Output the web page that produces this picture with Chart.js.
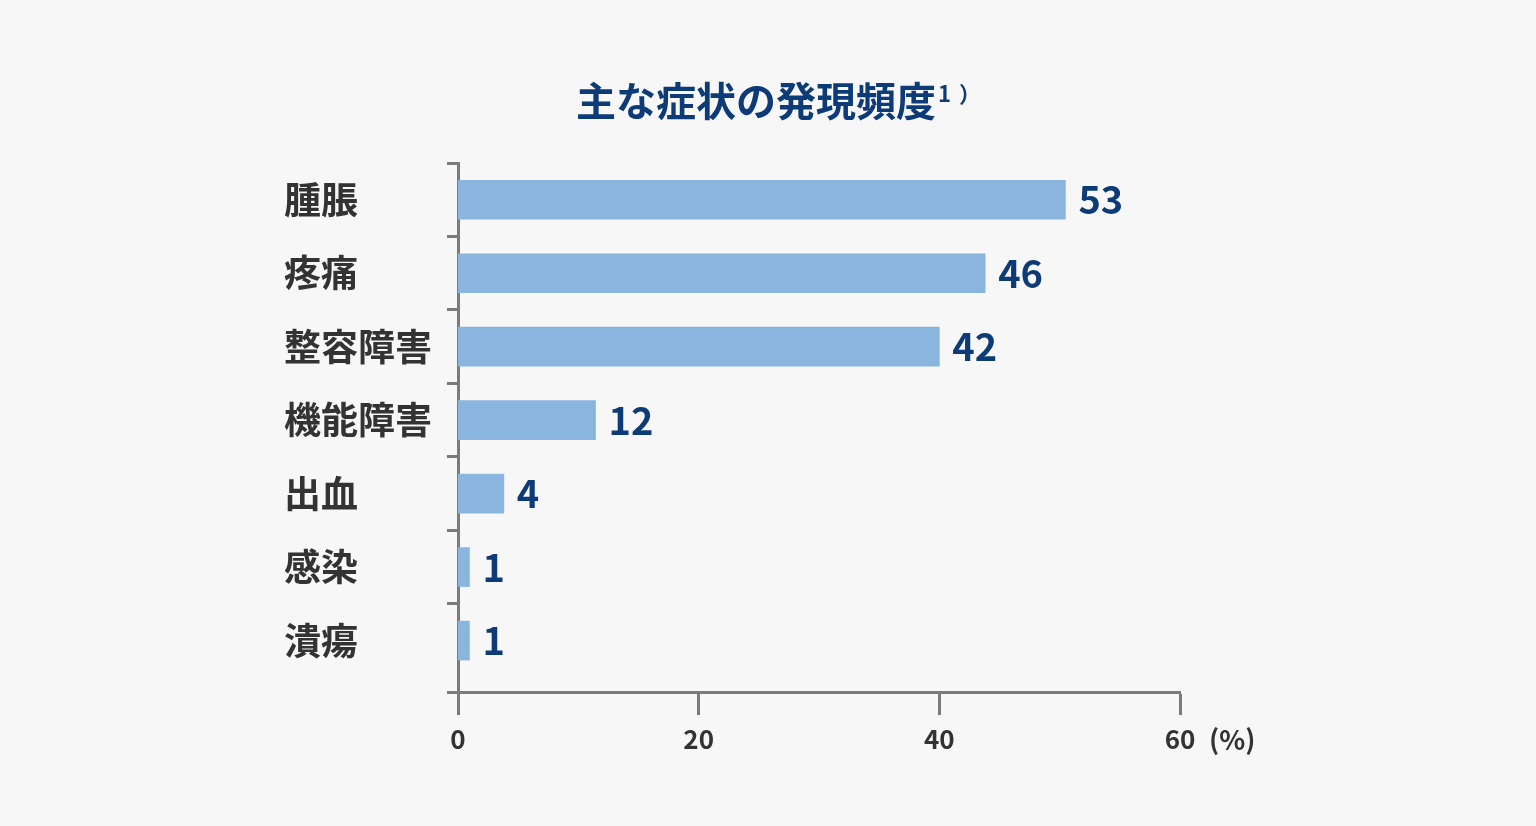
<!DOCTYPE html>
<html lang="ja">
<head>
<meta charset="utf-8">
<script src="https://cdn.jsdelivr.net/npm/chart.js@4.4.1/dist/chart.umd.min.js"></script>
<style>
  html, body { margin: 0; padding: 0; background: #f7f7f7; }
</style>
</head>
<body>
<canvas id="symptomChart" width="1536" height="826"></canvas>
<script>
var symptoms = ['腫脹', '疼痛', '整容障害', '機能障害', '出血', '感染', '潰瘍'];
var frequency = [53, 46, 42, 12, 4, 1, 1];
var axisTicks = [0, 20, 40, 60];
var titleText = '主な症状の発現頻度';
var titleNote = '1）';
var unitText = '(%)';

var navy = '#0d3b78';
var axisGray = '#7b7b7b';
var fontName = '"Noto Sans CJK JP", "Noto Sans", sans-serif';

var labelPlugin = {
  id: 'labels',
  afterDraw: function(chart) {
    var ctx = chart.ctx;
    var meta = chart.getDatasetMeta(0);
    var xs = chart.scales.x;
    ctx.save();
    // value labels next to bars
    ctx.fillStyle = navy;
    ctx.font = 'bold 38px ' + fontName;
    ctx.textAlign = 'left';
    ctx.textBaseline = 'middle';
    meta.data.forEach(function(bar, i) {
      ctx.fillText(String(frequency[i]), bar.x + 13, bar.y);
    });
    // title with note
    ctx.font = 'bold 40px ' + fontName;
    var w1 = ctx.measureText(titleText).width;
    var left = 756 - w1 / 2;
    ctx.fillText(titleText, left, 101);
    ctx.font = 'bold 22px ' + fontName;
    if ('letterSpacing' in ctx) ctx.letterSpacing = '8px';
    ctx.fillText(titleNote, left + w1 + 2, 94);
    if ('letterSpacing' in ctx) ctx.letterSpacing = '0px';
    // unit
    ctx.fillStyle = '#333';
    ctx.font = 'bold 27px ' + fontName;
    ctx.fillText(unitText, xs.right + 29, xs.top + 48);
    // stub of the x axis left of the y axis
    ctx.strokeStyle = axisGray;
    ctx.lineWidth = 3;
    ctx.beginPath();
    ctx.moveTo(xs.left - 11, xs.top + 0.5);
    ctx.lineTo(xs.left, xs.top + 0.5);
    ctx.stroke();
    ctx.restore();
  }
};

var chart = new Chart(document.getElementById('symptomChart').getContext('2d'), {
  type: 'bar',
  data: {
    labels: symptoms,
    datasets: [{
      label: '発現頻度',
      data: frequency,
      xAxisID: 'xBar',
      backgroundColor: '#8ab5de',
      borderWidth: 0,
      barThickness: 39
    }]
  },
  plugins: [labelPlugin],
  options: {
    responsive: false,
    animation: false,
    indexAxis: 'y',
    layout: {
      padding: { left: 284, right: 356, top: 163, bottom: 64 }
    },
    plugins: {
      legend: { display: false },
      title: { display: false },
      tooltip: { enabled: false }
    },
    scales: {
      x: {
        type: 'linear',
        position: 'bottom',
        min: 0,
        max: 60,
        afterBuildTicks: function(scale) {
          scale.ticks = axisTicks.map(function(v) { return { value: v }; });
        },
        afterFit: function(scale) {
          scale.height = 70;
        },
        border: { display: true, color: axisGray, width: 3 },
        grid: {
          drawOnChartArea: false,
          drawTicks: true,
          tickLength: 23,
          tickWidth: 3,
          tickColor: axisGray
        },
        ticks: {
          color: '#333',
          padding: 9,
          font: { family: fontName, size: 26, weight: 'bold' }
        }
      },
      xBar: {
        type: 'linear',
        display: false,
        min: 0,
        max: 63
      },
      y: {
        z: 1,
        afterBuildTicks: function(scale) {
          // leave a short gap below the last category
          scale._valueRange = 7.2;
        },
        afterFit: function(scale) {
          scale.width = 174;
        },
        border: { display: true, color: axisGray, width: 3 },
        grid: {
          offset: true,
          drawOnChartArea: false,
          tickLength: 11,
          tickWidth: 3,
          tickColor: function(ctx) {
            return (ctx.type === 'tick' && ctx.index < symptoms.length) ? axisGray : 'rgba(0,0,0,0)';
          }
        },
        ticks: {
          crossAlign: 'far',
          color: '#333',
          font: { family: fontName, size: 37, weight: 'bold' }
        }
      }
    }
  }
});
</script>
</body>
</html>
